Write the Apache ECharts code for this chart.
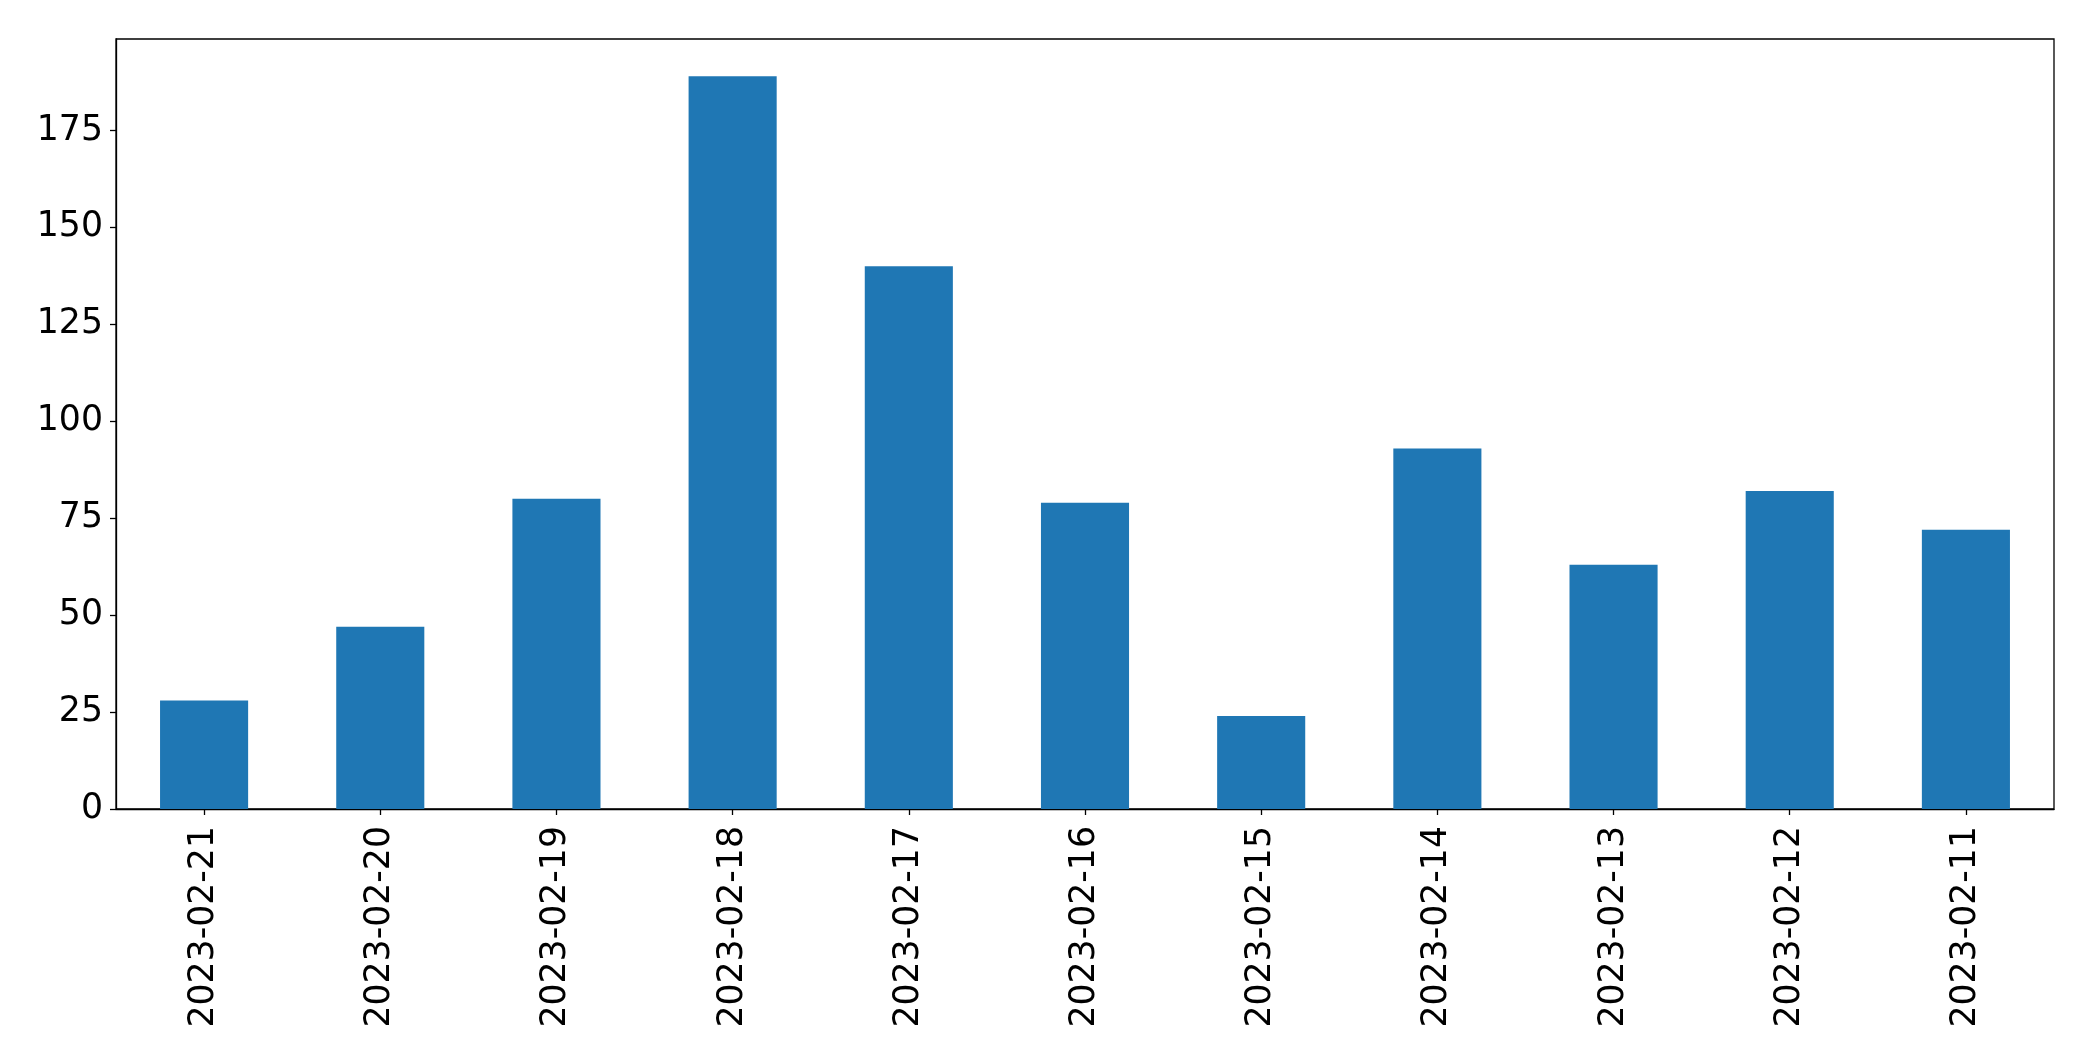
<!DOCTYPE html>
<html>
<head>
<meta charset="utf-8">
<script src="https://cdn.jsdelivr.net/npm/echarts@6/dist/echarts.min.js"></script>
<style>
html,body{margin:0;padding:0;background:#fff;}
#chart{width:2093px;height:1061px;}
</style>
</head>
<body>
<div id="chart"></div>
<script>
const categories = ["2023-02-21","2023-02-20","2023-02-19","2023-02-18","2023-02-17","2023-02-16","2023-02-15","2023-02-14","2023-02-13","2023-02-12","2023-02-11"];
const values = [28, 47, 80, 189, 140, 79, 24, 93, 63, 82, 72];
const yTicks = [0, 25, 50, 75, 100, 125, 150, 175];

const chart = echarts.init(document.getElementById('chart'), null, {renderer: 'canvas'});
const font = 'DejaVu Sans';
chart.setOption({
  animation: false,
  backgroundColor: '#ffffff',
  grid: {
    left: 116, top: 39, width: 1938, height: 770,
    show: true, borderColor: '#000', borderWidth: 1.3, backgroundColor: 'transparent'
  },
  xAxis: {
    type: 'category',
    data: categories,
    boundaryGap: true,
    axisLine: {show: true, lineStyle: {color: '#000', width: 1.3}},
    axisTick: {show: true, alignWithLabel: true, length: 6, lineStyle: {color: '#000', width: 1.3}},
    axisLabel: {rotate: 90, margin: 17, fontSize: 34.7, fontFamily: font, color: '#000', interval: 0}
  },
  yAxis: {
    type: 'value',
    min: 0, max: 198.6, interval: 25,
    splitLine: {show: false},
    axisLine: {show: true, lineStyle: {color: '#000', width: 1.3}},
    axisTick: {show: true, length: 6, lineStyle: {color: '#000', width: 1.3}},
    axisLabel: {
      margin: 13, fontSize: 34.7, fontFamily: font, color: '#000',
      showMaxLabel: false,
      formatter: function (v) { return yTicks.indexOf(v) >= 0 ? String(v) : ''; }
    }
  },
  series: [{
    type: 'bar',
    data: values,
    barWidth: '50%',
    itemStyle: {color: '#1f77b4'}
  }]
});
</script>
</body>
</html>
